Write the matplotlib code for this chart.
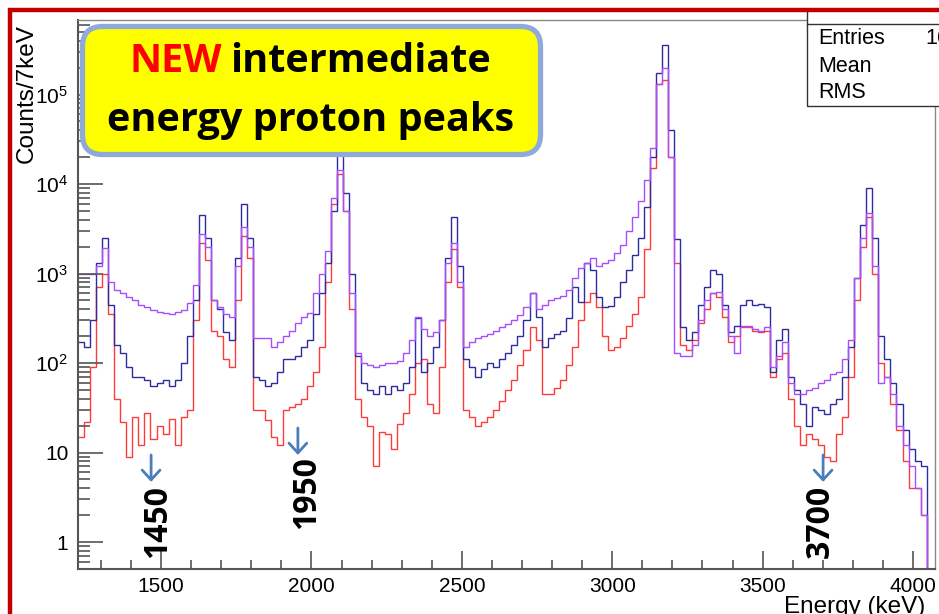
import numpy as np
import matplotlib.pyplot as plt
from matplotlib.patches import FancyBboxPatch, Rectangle
from matplotlib.transforms import IdentityTransform
from matplotlib.offsetbox import HPacker, TextArea, AnnotationBbox
from matplotlib.ticker import MultipleLocator, LogLocator, FuncFormatter, NullFormatter

plt.rcParams['font.family'] = ['Liberation Sans', 'DejaVu Sans']
plt.rcParams['mathtext.fontset'] = 'custom'
plt.rcParams['mathtext.rm'] = 'Liberation Sans'
plt.rcParams['mathtext.it'] = 'Liberation Sans:italic'

# histogram binning (keV)
E_START = 1225
BIN_WIDTH = 20

# counts per bin (bins start at 1225 keV, 20 keV wide)
purple = [1000, 1000, 980, 1200, 1950, 800, 650, 600, 540, 500,
          440, 420, 390, 370, 360, 350, 370, 390, 470, 750,
          2800, 2000, 500, 420, 350, 330, 1200, 3300, 2000, 190,
          190, 190, 150, 170, 200, 230, 280, 330, 360, 600,
          1000, 1800, 7000, 14500, 5000, 600, 130, 100, 95, 90,
          95, 100, 100, 105, 130, 180, 330, 240, 200, 220,
          300, 1300, 2200, 800, 150, 170, 190, 200, 210, 230,
          250, 270, 300, 340, 420, 600, 400, 450, 500, 530,
          560, 650, 900, 1150, 1300, 1500, 1200, 1300, 1420, 1700,
          2100, 3000, 4300, 6500, 11000, 25000, 130000, 200000, 20000, 130,
          120, 120, 160, 300, 500, 600, 620, 400, 200, 130,
          250, 260, 240, 230, 250, 90, 120, 170, 60, 45,
          45, 50, 52, 60, 65, 75, 80, 110, 180, 900,
          2500, 4700, 1200, 60, 70, 45, 20, 12, 7, 4,
          2, 0.1]
blue = [170, 150, 300, 1300, 2500, 450, 160, 130, 90, 70,
        70, 65, 55, 60, 65, 55, 65, 100, 200, 500,
        4500, 2500, 500, 400, 220, 180, 1500, 6000, 2500, 70,
        65, 55, 60, 80, 110, 110, 120, 150, 180, 350,
        600, 1300, 5000, 25000, 8000, 1000, 120, 60, 50, 45,
        55, 45, 55, 50, 60, 90, 320, 80, 100, 150,
        300, 1500, 4300, 1200, 110, 90, 70, 85, 100, 90,
        110, 130, 160, 200, 300, 600, 330, 150, 190, 210,
        230, 320, 700, 480, 1300, 1100, 550, 420, 430, 550,
        800, 1100, 1600, 2500, 5500, 20000, 175000, 360000, 40000, 2400,
        250, 180, 220, 450, 700, 1100, 1000, 450, 220, 260,
        450, 500, 450, 460, 420, 80, 180, 240, 70, 50,
        35, 20, 32, 30, 27, 35, 40, 70, 150, 900,
        3500, 9000, 2500, 200, 110, 60, 35, 18, 11, 8,
        7, 0.1]
red = [15, 22, 90, 700, 1000, 350, 40, 22, 9, 25,
       12, 28, 14, 20, 16, 24, 12, 25, 30, 300,
       2200, 1400, 230, 200, 110, 90, 500, 2600, 1500, 30,
       30, 23, 15, 12, 30, 32, 35, 40, 55, 80,
       150, 800, 6000, 13000, 5000, 400, 40, 25, 20, 7,
       17, 16, 11, 21, 28, 45, 100, 110, 35, 28,
       90, 800, 1900, 700, 30, 25, 20, 22, 25, 30,
       38, 50, 65, 95, 140, 250, 180, 45, 45, 52,
       65, 95, 150, 300, 480, 600, 420, 200, 140, 150,
       190, 260, 350, 550, 1900, 15000, 130000, 145000, 20000, 1300,
       160, 140, 180, 280, 400, 600, 550, 330, 170, 200,
       260, 250, 230, 220, 230, 70, 110, 130, 40, 20,
       12, 16, 14, 12, 9, 8, 16, 25, 70, 500,
       2000, 4300, 1000, 100, 70, 35, 18, 8, 4, 4,
       2, 0.1]

# overlay labels: (text, arrow energy, arrow top, arrow tip, label energy, label top)
markers = [('1450', 1467, 9.4, 4.7, 1487, 4.3),
           ('1950', 1955, 18.8, 9.4, 1985, 9.1),
           ('3700', 3701, 9.4, 4.7, 3691, 4.3)]

W, H = 939, 614
fig = plt.figure(figsize=(W / 100, H / 100), dpi=100)
ax = fig.add_axes([78 / W, 1 - 569 / H, (935 - 78) / W, (569 - 20) / H])

edges = E_START + BIN_WIDTH * np.arange(len(purple) + 1)
ax.stairs(red, edges, baseline=None, color='#ff3a3a', lw=1.0)
ax.stairs(blue, edges, baseline=None, color='#2c2ca0', lw=1.0)
ax.stairs(purple, edges, baseline=None, color='#a64dff', lw=1.0)

ax.set_yscale('log')
ax.set_xlim(1224, 4073)
ax.set_ylim(0.5, 6.8e5)

ax.xaxis.set_major_locator(MultipleLocator(500))
ax.xaxis.set_minor_locator(MultipleLocator(100))
ax.yaxis.set_major_locator(LogLocator(base=10, numticks=10))
ax.yaxis.set_minor_locator(LogLocator(base=10, subs=range(2, 10), numticks=20))
ax.yaxis.set_minor_formatter(NullFormatter())


def decade(v, pos):
    if v < 5:
        return '1'
    if v < 50:
        return '10'
    return r'$10^{%d}$' % round(np.log10(v))


ax.yaxis.set_major_formatter(FuncFormatter(decade))
ax.tick_params(which='both', direction='in', color='#555555', width=1.2,
               labelsize=15, top=False, right=False)
ax.tick_params(axis='x', which='major', length=13, pad=6)
ax.tick_params(axis='x', which='minor', length=6.5)
ax.tick_params(axis='y', which='major', length=18, pad=7)
ax.tick_params(axis='y', which='minor', length=8.5)
for side in ['left', 'bottom']:
    ax.spines[side].set_color('#555555')
    ax.spines[side].set_linewidth(1.5)
for side in ['top', 'right']:
    ax.spines[side].set_color('#888888')
    ax.spines[side].set_linewidth(1.0)

fig.text(27 / W, 1 - 24 / H, 'Counts/7keV', rotation=90, ha='center', va='top', fontsize=17.5)
fig.text(925 / W, 1 - 596 / H, 'Energy (keV)', ha='right', va='top', fontsize=17.5)

# arrows and energy labels
for label, ex, ytop, ytip, lx, ly in markers:
    ax.annotate('', xy=(ex, ytip), xytext=(ex, ytop),
                arrowprops=dict(arrowstyle='->,head_length=0.35,head_width=0.32',
                                color='#4a7ebb', lw=2, shrinkA=0, shrinkB=0,
                                mutation_scale=20))
    ax.text(lx, ly, label, rotation=90, ha='center', va='top', fontsize=23,
            fontweight='bold', family='Open Sans')

# stats box (cut by the frame)
px = IdentityTransform()
fig.add_artist(Rectangle((807, H - 106), 200, 96, transform=px, facecolor='white',
                         edgecolor='#333333', lw=1.0, zorder=5))
fig.add_artist(plt.Line2D([807, 939], [H - 24, H - 24], transform=px, color='#333333',
                          lw=1.0, zorder=6))
for name, yy in [('Entries', 38), ('Mean', 66), ('RMS', 93)]:
    fig.text(818 / W, 1 - yy / H, name, ha='left', va='center', fontsize=15.5, zorder=7)
fig.text(925 / W, 1 - 38 / H, '16', ha='left', va='center', fontsize=15.5, zorder=7)

# yellow call-out box
fig.add_artist(FancyBboxPatch((82.5, H - 154.5), 458, 128, transform=px,
                              boxstyle='round,pad=0,rounding_size=20',
                              facecolor='#ffff00', edgecolor='#8eaadb', lw=3.8, zorder=8))
bold = dict(fontsize=28.5, fontweight='bold', family='Open Sans')
line1 = HPacker(children=[TextArea('NEW', textprops=dict(color='#ff0000', **bold)),
                          TextArea('intermediate', textprops=dict(color='black', **bold))],
                sep=6, pad=0, align='baseline')
ab = AnnotationBbox(line1, (310, H - 62), xycoords='figure pixels', frameon=False,
                    box_alignment=(0.5, 0.5), pad=0, zorder=9)
fig.add_artist(ab)
fig.text(311 / W, 1 - 121 / H, 'energy proton peaks', ha='center', va='center',
         color='black', zorder=9, **bold)

# red slide frame
fig.add_artist(Rectangle((10, -50), 950, H - 10 + 50, transform=px, fill=False,
                         edgecolor='#c00000', lw=3.2, zorder=10))

fig.savefig('out.png', dpi=100)
